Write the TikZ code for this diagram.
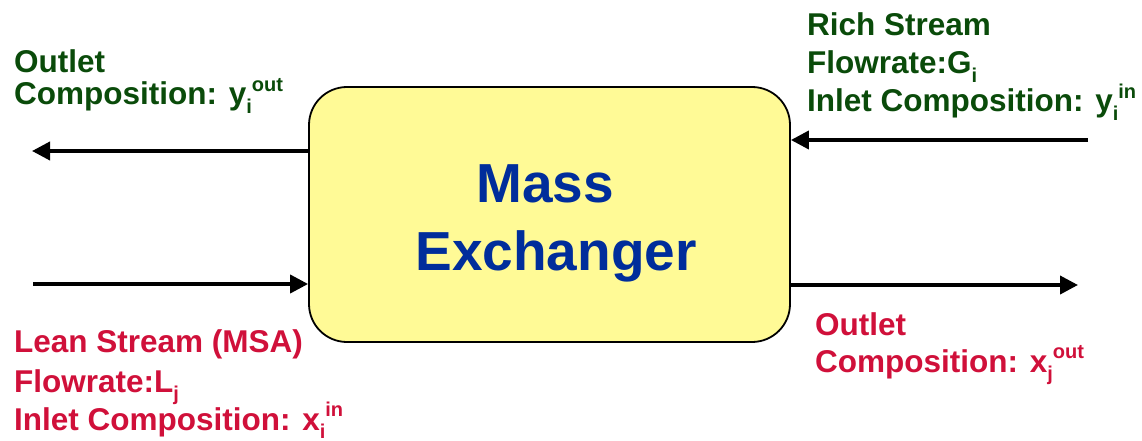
\documentclass[tikz,border=0pt]{standalone}
\usepackage{fontspec}
\setmainfont{Liberation Sans}
\usetikzlibrary{arrows.meta}
\definecolor{richgreen}{RGB}{10,75,10}
\definecolor{leanred}{RGB}{208,16,58}
\definecolor{boxblue}{RGB}{0,45,155}
\definecolor{boxyellow}{RGB}{255,250,150}
\newcommand\mysb[1]{\raisebox{-0.27em}{\fontsize{20}{20}\selectfont #1}}
\newcommand\mysp[1]{\raisebox{0.42em}{\fontsize{20}{20}\selectfont #1}}
\begin{document}
\begin{tikzpicture}[x=1pt,y=-1pt,
  lbl/.style={anchor=base west,inner sep=0pt,font=\fontsize{31.5}{31.5}\selectfont\bfseries},
  greenlbl/.style={lbl,text=richgreen},
  redlbl/.style={lbl,text=leanred},
  bigtxt/.style={anchor=base,inner sep=0pt,text=boxblue,font=\fontsize{55}{55}\selectfont\bfseries},
  flow/.style={line width=3.8pt,-{Triangle[length=18pt,width=18pt]}}]
\useasboundingbox (0,0) rectangle (1142,441);
% main box
\node[draw=black,line width=1.8pt,fill=boxyellow,rounded corners=38pt,
      minimum width=481pt,minimum height=255pt,inner sep=0pt] (box) at (549.5,214.5) {};
\node[bigtxt] (mass) at (545,202) {Mass};
\node[bigtxt] (exch) at (556,270) {Exchanger};
% free ends
\coordinate (tlend) at (32,151);
\coordinate (trstart) at (1088,140);
\coordinate (blstart) at (33,284);
\coordinate (brend) at (1078,285);
% connectors
\draw[flow] (box.west |- tlend) -- (tlend);
\draw[flow] (trstart) -- (box.east |- trstart);
\draw[flow] (blstart) -- (box.west |- blstart);
\draw[flow] (box.east |- brend) -- (brend);
% top left labels
\node[greenlbl] (tl1) at (14,73) {Outlet};
\node[greenlbl] (tl2) at (14,105) {Composition: y\mysb{i}\mysp{out}};
% top right labels
\node[greenlbl] (tr1) at (807,36) {Rich Stream};
\node[greenlbl] (tr2) at (807,74) {Flowrate:G\mysb{i}};
\node[greenlbl] (tr3) at (807,112) {Inlet Composition: y\mysb{i}\mysp{in}};
% bottom left labels
\node[redlbl] (bl1) at (14,352) {Lean Stream (MSA)};
\node[redlbl] (bl2) at (14,392) {Flowrate:L\mysb{j}};
\node[redlbl] (bl3) at (14,430) {Inlet Composition: x\mysb{i}\mysp{in}};
% bottom right labels
\node[redlbl] (br1) at (815,335) {Outlet};
\node[redlbl] (br2) at (815,372) {Composition: x\mysb{j}\mysp{out}};
\end{tikzpicture}
\end{document}
